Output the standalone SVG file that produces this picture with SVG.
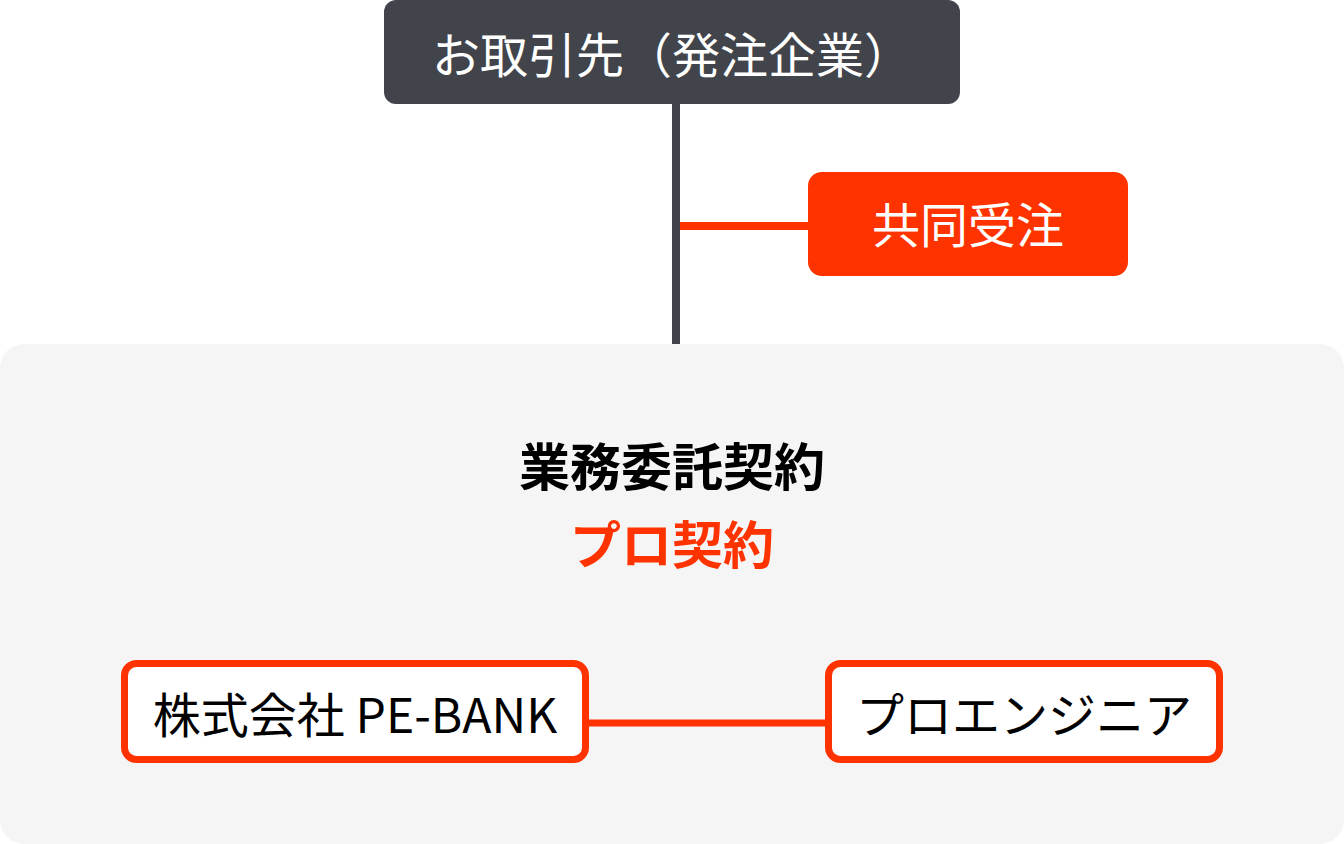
<svg xmlns="http://www.w3.org/2000/svg" width="1344" height="844" viewBox="0 0 1344 844">
<style>
text{font-family:"Noto Sans CJK JP","Noto Sans",sans-serif;text-anchor:middle}
.t{font-size:48px}
.w{fill:#ffffff}
.k{fill:#000000}
.b{font-size:51px;font-weight:700}
.box{fill:#ffffff;stroke:#ff3300;stroke-width:7}
</style>
<rect width="1344" height="844" fill="#ffffff"/>
<g id="panel">
<rect x="0" y="344" width="1344" height="500" rx="24" fill="#f5f5f5"/>
</g>
<g id="connectors">
<line x1="676" y1="100" x2="676" y2="344" stroke="#41444b" stroke-width="8"/>
<line x1="680" y1="226" x2="812" y2="226" stroke="#ff3300" stroke-width="8"/>
<line x1="585" y1="723" x2="828" y2="723" stroke="#ff3300" stroke-width="7"/>
</g>
<g id="client">
<rect x="384" y="0" width="576" height="104" rx="12" fill="#41444b"/>
<text class="t w" x="672" y="73">お取引先（発注企業）</text>
</g>
<g id="joint">
<rect x="808" y="172" width="320" height="104" rx="14" fill="#ff3300"/>
<text class="t w" x="968" y="243">共同受注</text>
</g>
<g id="contract">
<text class="b k" x="672" y="486">業務委託契約</text>
<text class="b" x="672" y="564" fill="#ff3300">プロ契約</text>
</g>
<g id="pebank">
<rect class="box" x="124.5" y="663.5" width="461" height="96" rx="12"/>
<text class="t k" x="355" y="733">株式会社 PE-BANK</text>
</g>
<g id="engineer">
<rect class="box" x="828.5" y="663.5" width="391" height="96" rx="12"/>
<text class="t k" x="1024" y="733">プロエンジニア</text>
</g>
</svg>
